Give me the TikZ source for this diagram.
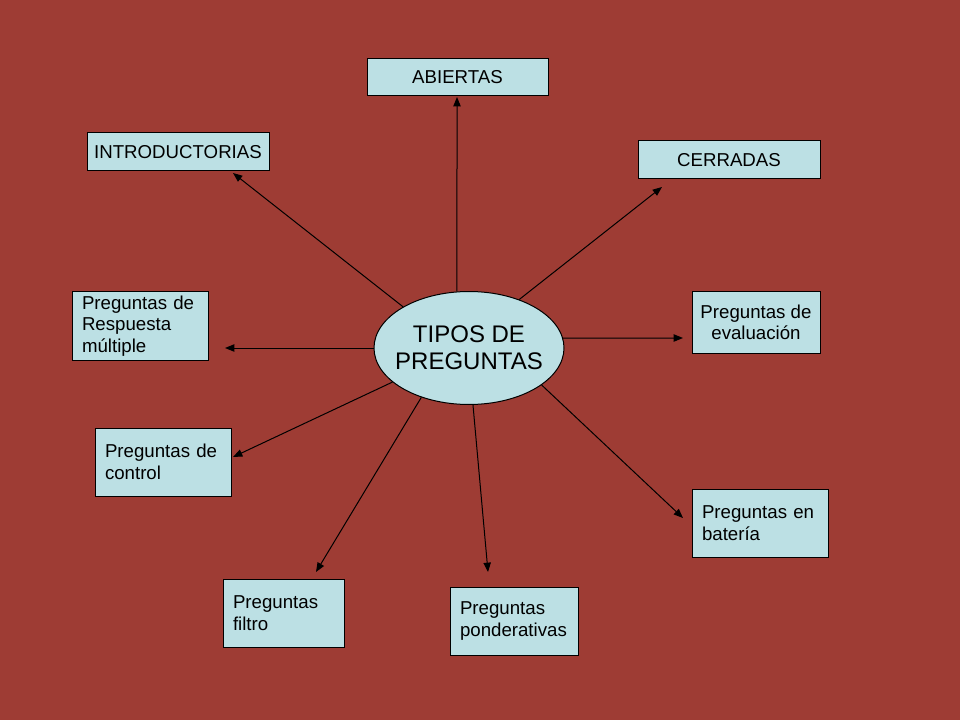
\documentclass[tikz,border=0pt]{standalone}
\usepackage{fontspec}
\setmainfont{Liberation Sans}
\usetikzlibrary{arrows.meta,shapes.geometric}
\definecolor{fondo}{RGB}{158,60,52}
\definecolor{celeste}{RGB}{188,224,228}
\begin{document}
\begin{tikzpicture}[x=0.75pt,y=-0.75pt,
  caja/.style={draw=black,line width=0.75pt,fill=celeste,inner sep=0pt,font=\fontsize{14}{16.1}\selectfont},
  izq/.style={caja,align=left,text width=#1},
  flecha/.style={-{Triangle[length=7pt,width=5.5pt]},line width=0.75pt}]
\fill[fondo] (0,0) rectangle (960,720);

\node[ellipse,draw=black,line width=0.75pt,fill=celeste,minimum width=142.5pt,minimum height=84.75pt,inner xsep=-5.5pt,inner ysep=0pt,align=center,font=\fontsize{18}{20.3}\selectfont] (tp) at (469,348) {TIPOS DE\\PREGUNTAS};

\node[caja,minimum width=135.75pt,minimum height=27.75pt] (abi) at (457.5,77.5) {ABIERTAS};
\node[caja,minimum width=136.5pt,minimum height=28.5pt] (intro) at (178,152) {INTRODUCTORIAS};
\node[caja,minimum width=136.5pt,minimum height=28.5pt] (cerr) at (729,160) {CERRADAS};
\node[caja,minimum width=96pt,minimum height=45.75pt,align=center] (eval) at (756,322.5) {Preguntas de\\evaluación};
\node[izq=87pt,inner xsep=7.5pt,minimum height=51pt] (resp) at (140,326) {Preguntas de\\Respuesta\\múltiple};
\node[izq=87pt,inner xsep=7.5pt,minimum height=51pt] (ctrl) at (163,462) {Preguntas de\\control};
\node[izq=87pt,inner xsep=7.5pt,minimum height=51pt] (bat) at (760,523) {Preguntas en\\batería};
\node[izq=75.75pt,inner xsep=7.5pt,minimum height=51pt] (filt) at (283.5,613) {Preguntas\\filtro};
\node[izq=81pt,inner xsep=7.5pt,minimum height=51pt] (pond) at (514,621) {Preguntas\\ponderativas};

\coordinate (tabi) at (457,97);
\coordinate (tintro) at (233,173);
\coordinate (tcerr) at (662,187);
\coordinate (tresp) at (225,348);
\coordinate (teval) at (683,338);
\coordinate (tctrl) at (233,457);
\coordinate (tbat) at (683,518);
\coordinate (tfilt) at (316,572);
\coordinate (tpond) at (488,572);

\foreach \a/\d in {102/abi,148/intro,44/cerr,180/resp,6/eval,204/ctrl,333/bat,226/filt,274/pond}
\draw[flecha] (tp.\a) -- (t\d);

\end{tikzpicture}
\end{document}
